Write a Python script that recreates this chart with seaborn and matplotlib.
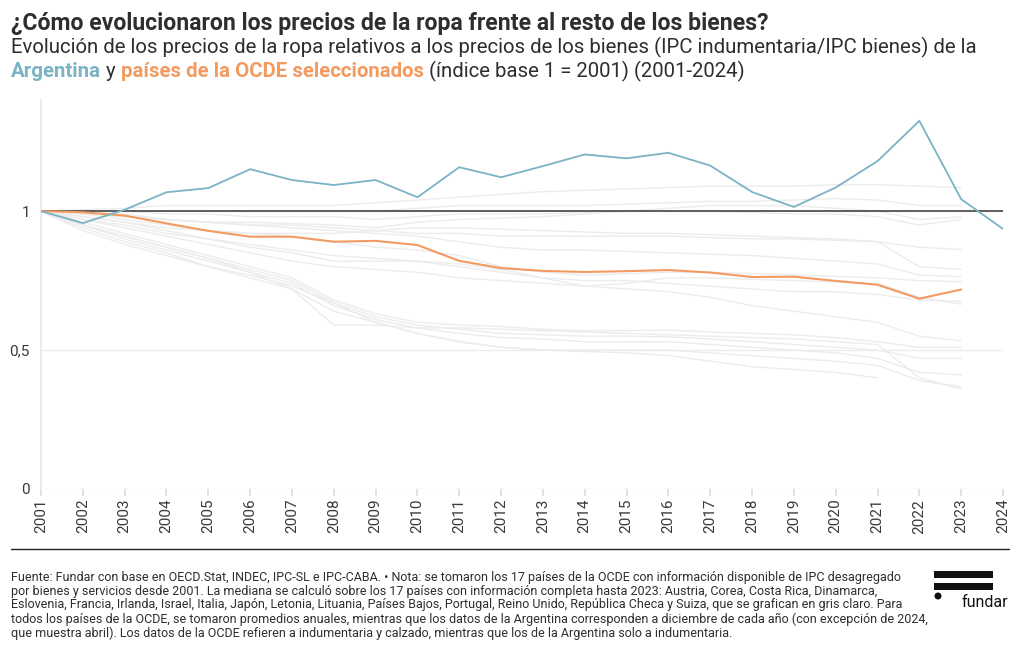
"""
Precios de la ropa relativos a los bienes: Argentina vs. países OCDE
"""

import numpy as np
import pandas as pd
import matplotlib
matplotlib.use("Agg")
import matplotlib.pyplot as plt
import seaborn as sns
from matplotlib.lines import Line2D
from matplotlib.patches import Rectangle, Ellipse
from matplotlib.ticker import FuncFormatter

# --- datos (IPC indumentaria / IPC bienes, base 2001 = 1) ---
anios = list(range(2001, 2025))

argentina = [1.0, 0.957, 1.005, 1.068, 1.083, 1.151, 1.112, 1.094, 1.112, 1.05,
             1.158, 1.122, 1.162, 1.204, 1.19, 1.21, 1.164, 1.069, 1.015, 1.085,
             1.18, 1.325, 1.043, 0.936]

mediana_ocde = [1.0, 0.996, 0.984, 0.956, 0.929, 0.908, 0.908, 0.890, 0.893, 0.878,
                0.821, 0.795, 0.785, 0.781, 0.784, 0.788, 0.779, 0.763, 0.764, 0.749,
                0.735, 0.685, 0.718]

# 17 países de la OCDE (gris claro), 2001-2023
pais_01 = [1, 1.005, 1.01, 1.02, 1.02, 1.02, 1.02, 1.02, 1.03, 1.04, 1.05, 1.06,
           1.07, 1.075, 1.08, 1.085, 1.09, 1.09, 1.09, 1.095, 1.095, 1.09, 1.085]
pais_02 = [1, 1.0, 1.0, 1.0, 1.0, 1.0, 1.0, 1.0, 1.0, 1.01, 1.02, 1.02,
           1.02, 1.02, 1.025, 1.03, 1.035, 1.035, 1.04, 1.045, 1.04, 1.02, 1.02]
pais_03 = [1, 0.99, 0.98, 0.97, 0.96, 0.96, 0.955, 0.95, 0.94, 0.96, 0.97, 0.975,
           0.98, 0.99, 1.0, 1.01, 1.02, 1.02, 1.02, 1.01, 1.0, 0.97, 0.98]
pais_04 = [1, 1.0, 1.0, 0.99, 0.99, 0.98, 0.98, 0.98, 0.97, 0.98, 0.99, 0.99,
           0.99, 0.995, 1.0, 1.0, 1.0, 0.995, 0.99, 0.99, 0.98, 0.95, 0.97]
pais_05 = [1, 0.98, 0.96, 0.93, 0.90, 0.87, 0.85, 0.82, 0.82, 0.82, 0.81, 0.79,
           0.76, 0.73, 0.74, 0.76, 0.76, 0.755, 0.75, 0.745, 0.74, 0.69, 0.665]
pais_06 = [1, 0.99, 0.97, 0.95, 0.93, 0.92, 0.91, 0.89, 0.87, 0.86, 0.84, 0.80,
           0.78, 0.77, 0.775, 0.78, 0.78, 0.775, 0.77, 0.765, 0.76, 0.75, 0.746]
pais_07 = [1, 1.0, 0.99, 0.97, 0.96, 0.95, 0.94, 0.93, 0.92, 0.91, 0.89, 0.87,
           0.86, 0.86, 0.855, 0.85, 0.845, 0.84, 0.83, 0.82, 0.81, 0.77, 0.764]
pais_08 = [1, 0.99, 0.98, 0.97, 0.96, 0.95, 0.95, 0.94, 0.93, 0.92, 0.92, 0.91,
           0.91, 0.91, 0.91, 0.91, 0.905, 0.9, 0.9, 0.895, 0.89, 0.87, 0.862]
pais_09 = [1, 0.98, 0.96, 0.94, 0.93, 0.92, 0.92, 0.92, 0.93, 0.94, 0.94, 0.935,
           0.93, 0.925, 0.92, 0.92, 0.915, 0.91, 0.905, 0.9, 0.89, 0.80, 0.79]
pais_10 = [1, 0.97, 0.94, 0.91, 0.88, 0.85, 0.82, 0.80, 0.79, 0.78, 0.76, 0.75,
           0.74, 0.73, 0.72, 0.71, 0.69, 0.66, 0.64, 0.62, 0.60, 0.55, 0.533]
pais_11 = [1, 0.96, 0.92, 0.88, 0.84, 0.80, 0.76, 0.68, 0.63, 0.60, 0.59, 0.585,
           0.575, 0.57, 0.57, 0.572, 0.565, 0.56, 0.555, 0.545, 0.53, 0.51, 0.51]
pais_12 = [1, 0.95, 0.91, 0.87, 0.83, 0.79, 0.75, 0.67, 0.62, 0.59, 0.575, 0.56,
           0.555, 0.55, 0.55, 0.548, 0.54, 0.53, 0.52, 0.51, 0.50, 0.47, 0.47]
pais_13 = [1, 0.95, 0.90, 0.86, 0.82, 0.78, 0.74, 0.66, 0.61, 0.58, 0.56, 0.545,
           0.54, 0.53, 0.53, 0.53, 0.52, 0.51, 0.50, 0.49, 0.47, 0.42, 0.41]
pais_14 = [1, 0.94, 0.89, 0.85, 0.80, 0.76, 0.72, 0.64, 0.60, 0.56, 0.53, 0.51,
           0.50, 0.50, 0.50, 0.50, 0.49, 0.48, 0.47, 0.46, 0.445, 0.39, 0.368]
pais_15 = [1, 0.93, 0.88, 0.84, 0.80, 0.77, 0.73, 0.67, 0.60, 0.56, 0.53, 0.51,
           0.50, 0.495, 0.49, 0.48, 0.46, 0.44, 0.43, 0.42, 0.40, np.nan, np.nan]
pais_16 = [1, 0.95, 0.91, 0.87, 0.83, 0.78, 0.72, 0.59, 0.59, 0.58, 0.58, 0.575,
           0.57, 0.565, 0.56, 0.555, 0.55, 0.545, 0.54, 0.53, 0.52, 0.40, 0.36]
pais_17 = [1, 0.97, 0.95, 0.92, 0.90, 0.88, 0.86, 0.84, 0.83, 0.82, 0.80, 0.78,
           0.76, 0.75, 0.75, 0.74, 0.73, 0.72, 0.71, 0.71, 0.70, 0.68, 0.675]

paises = [pais_01, pais_02, pais_03, pais_04, pais_05, pais_06, pais_07, pais_08,
          pais_09, pais_10, pais_11, pais_12, pais_13, pais_14, pais_15, pais_16,
          pais_17]

AZUL = "#7ab3c3"
NARANJA = "#f29a5f"
GRIS = "#ececec"
TEXTO = "#2e2e2e"


def armar_tablas():
    filas = []
    for i, serie in enumerate(paises):
        for anio, v in zip(anios, serie):
            filas.append({"pais": f"p{i + 1:02d}", "anio": anio, "valor": v})
    gris = pd.DataFrame(filas).dropna()
    arg = pd.DataFrame({"anio": anios, "valor": argentina})
    med = pd.DataFrame({"anio": anios[:len(mediana_ocde)], "valor": mediana_ocde})
    return gris, arg, med


def texto_en_linea(fig, x, y, partes, size):
    # escribe varios trozos de texto seguidos en la misma linea
    renderer = fig.canvas.get_renderer()
    for txt, color, peso in partes:
        t = fig.text(x, y, txt, color=color, fontsize=size, fontweight=peso,
                     va="baseline", ha="left")
        bb = t.get_window_extent(renderer=renderer)
        x += bb.width / fig.bbox.width


def graficar():
    sns.set_theme(style="white")
    plt.rcParams["font.family"] = ["Roboto", "DejaVu Sans"]

    gris, arg, med = armar_tablas()

    fig = plt.figure(figsize=(10.2, 6.5), dpi=100)
    ax = fig.add_axes([41 / 1020, 1 - 489 / 650, (1003 - 41) / 1020, (489 - 100) / 650])

    sns.lineplot(data=gris, x="anio", y="valor", units="pais", estimator=None,
                 color=GRIS, lw=1, ax=ax, zorder=2)
    ax.axhline(1, color="#444444", lw=1.2, zorder=2.5)
    sns.lineplot(data=med, x="anio", y="valor", color=NARANJA, lw=1.5, ax=ax, zorder=3)
    sns.lineplot(data=arg, x="anio", y="valor", color=AZUL, lw=1.3, ax=ax, zorder=3)

    ax.set_xlim(2001, 2024)
    ax.set_ylim(0, 1.4)
    ax.set_xticks(anios)
    ax.set_xticklabels([str(a) for a in anios], rotation=90)
    ax.set_yticks([0, 0.5, 1])
    ax.yaxis.set_major_formatter(FuncFormatter(lambda v, p: f"{v:g}".replace(".", ",")))
    ax.yaxis.grid(True, color="#ececec", lw=1)
    ax.set_axisbelow(True)
    ax.set_xlabel("")
    ax.set_ylabel("")
    for s in ["top", "right", "bottom"]:
        ax.spines[s].set_visible(False)
    ax.spines["left"].set_color("#e8e8e8")
    ax.tick_params(axis="x", length=5, color="#dddddd", labelsize=11,
                   labelcolor="#3a3a3a", pad=2, bottom=True)
    ax.tick_params(axis="y", length=0, labelsize=11, labelcolor="#3a3a3a", pad=8)

    # titulos
    fig.text(11 / 1020, 1 - 30 / 650, "¿Cómo evolucionaron los precios de la ropa frente al resto de los bienes?",
             fontsize=16.6, fontweight="bold", color=TEXTO, va="baseline")
    fig.text(11 / 1020, 1 - 53 / 650,
             "Evolución de los precios de la ropa relativos a los precios de los bienes (IPC indumentaria/IPC bienes) de la",
             fontsize=14.7, color=TEXTO, va="baseline")
    texto_en_linea(fig, 11 / 1020, 1 - 77 / 650, [
        ("Argentina", AZUL, "bold"),
        (" y ", TEXTO, "normal"),
        ("países de la OCDE seleccionados", NARANJA, "bold"),
        (" (índice base 1 = 2001) (2001-2024)", TEXTO, "normal"),
    ], 14.7)

    # pie
    fig.add_artist(Line2D([11 / 1020, 1009 / 1020], [1 - 549 / 650] * 2,
                          color="#222222", lw=1))
    nota = ("Fuente: Fundar con base en OECD.Stat, INDEC, IPC-SL e IPC-CABA. • Nota: se tomaron los 17 países de la OCDE con información disponible de IPC desagregado\n"
            "por bienes y servicios desde 2001. La mediana se calculó sobre los 17 países con información completa hasta 2023: Austria, Corea, Costa Rica, Dinamarca,\n"
            "Eslovenia, Francia, Irlanda, Israel, Italia, Japón, Letonia, Lituania, Países Bajos, Portugal, Reino Unido, República Checa y Suiza, que se grafican en gris claro. Para\n"
            "todos los países de la OCDE, se tomaron promedios anuales, mientras que los datos de la Argentina corresponden a diciembre de cada año (con excepción de 2024,\n"
            "que muestra abril). Los datos de la OCDE refieren a indumentaria y calzado, mientras que los de la Argentina solo a indumentaria.")
    fig.text(11 / 1020, 1 - 571 / 650, nota, fontsize=9, color=TEXTO,
             va="top", linespacing=1.07)

    # logo fundar
    for y0 in (571, 583):
        fig.add_artist(Rectangle((934 / 1020, 1 - (y0 + 6.5) / 650), 59 / 1020, 6.5 / 650,
                                 transform=fig.transFigure, color="#111111", lw=0))
    fig.add_artist(Ellipse((938 / 1020, 1 - 596 / 650), 7 / 1020, 7 / 650,
                           transform=fig.transFigure, color="#111111", lw=0))
    fig.text(962 / 1020, 1 - 607 / 650, "fundar", fontsize=11.5, color="#111111",
             va="baseline")

    fig.savefig("out.png", dpi=100)


if __name__ == "__main__":
    graficar()
